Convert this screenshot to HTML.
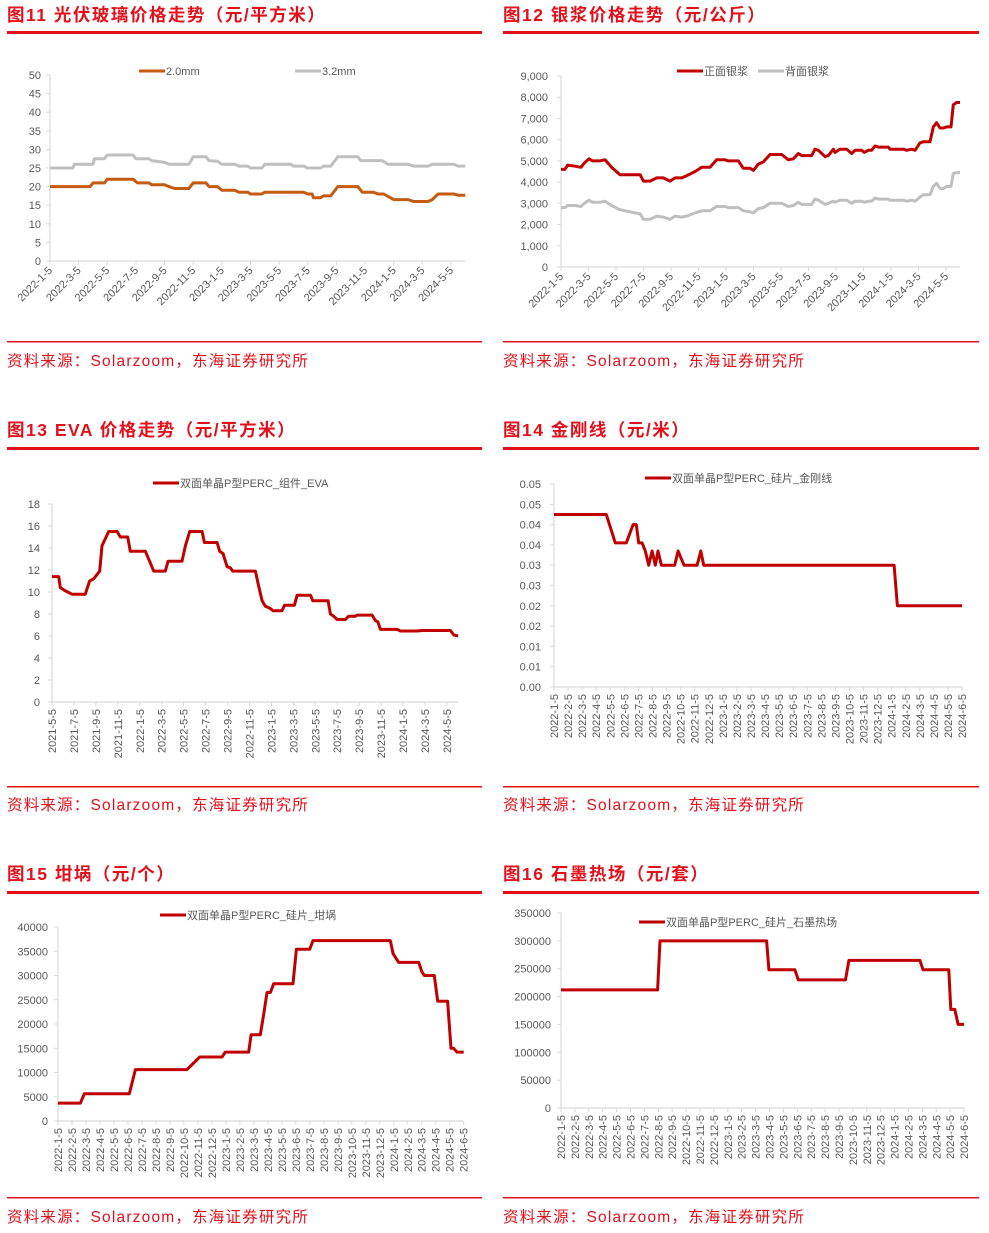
<!DOCTYPE html>
<html><head><meta charset="utf-8">
<style>
html,body{margin:0;padding:0;background:#fff;}
svg{display:block;font-family:"Liberation Sans","Noto Sans CJK SC",sans-serif;}
</style></head>
<body>
<svg id="page" width="989" height="1233" viewBox="0 0 989 1233" xmlns="http://www.w3.org/2000/svg">
<g fill="#e3101c" font-weight="bold" font-size="17.5" letter-spacing="1.5">
<text x="7" y="21">图11  光伏玻璃价格走势（元/平方米）</text>
<text x="503" y="21">图12  银浆价格走势（元/公斤）</text>
<text x="7" y="436">图13  EVA 价格走势（元/平方米）</text>
<text x="503" y="436">图14  金刚线（元/米）</text>
<text x="7" y="880">图15  坩埚（元/个）</text>
<text x="503" y="880">图16  石墨热场（元/套）</text>
</g>
<g fill="#e3101c">
<rect x="7" y="31" width="475" height="3"/><rect x="503" y="31" width="476" height="3"/>
<rect x="7" y="447" width="475" height="3"/><rect x="503" y="447" width="476" height="3"/>
<rect x="7" y="891" width="475" height="3"/><rect x="503" y="891" width="476" height="3"/>
<rect x="7" y="341" width="475" height="1.5"/><rect x="503" y="341" width="476" height="1.5"/>
<rect x="7" y="786" width="475" height="1.5"/><rect x="503" y="786" width="476" height="1.5"/>
<rect x="7" y="1197" width="475" height="1.5"/><rect x="503" y="1197" width="476" height="1.5"/>
</g>
<g fill="#e3101c" font-size="15.5" letter-spacing="1.2">
<text x="7" y="366">资料来源：Solarzoom，东海证券研究所</text>
<text x="503" y="366">资料来源：Solarzoom，东海证券研究所</text>
<text x="7" y="810">资料来源：Solarzoom，东海证券研究所</text>
<text x="503" y="810">资料来源：Solarzoom，东海证券研究所</text>
<text x="7" y="1222">资料来源：Solarzoom，东海证券研究所</text>
<text x="503" y="1222">资料来源：Solarzoom，东海证券研究所</text>
</g>
</svg>
<script>
// ---- Chart 11: glass ----
const glassLabels = ["2022-1-5","2022-3-5","2022-5-5","2022-7-5","2022-9-5","2022-11-5","2023-1-5","2023-3-5","2023-5-5","2023-7-5","2023-9-5","2023-11-5","2024-1-5","2024-3-5","2024-5-5"];
const glassYTicks = [0,5,10,15,20,25,30,35,40,45,50];
const glass32T = [0,1.6,1.7,3.0,3.1,3.8,4.0,5.8,6.0,6.9,7.1,8.0,8.3,9.7,10.0,10.9,11.1,11.7,12.0,12.9,13.2,13.8,14.0,14.8,15.0,16.8,17.0,17.7,18.0,18.9,19.1,19.6,20.1,21.5,21.7,23.2,23.6,25.0,25.4,26.4,26.7,28.2,28.5,29.0];
const glass32V = [25,25,26,26,27.5,27.5,28.5,28.5,27.5,27.5,27,26.5,26,26,28,28,27,26.8,26,26,25.5,25.5,25,25,26,26,25.5,25.5,25,25,25.5,25.5,28,28,27,27,26,26,25.5,25.5,26,26,25.5,25.5];
const glass20T = [0,2.8,3.0,3.8,4.0,5.8,6.1,6.9,7.1,8.0,8.3,8.7,9.7,10.0,10.9,11.1,11.7,12.0,12.9,13.2,13.8,14.0,14.8,15.0,17.7,18.0,18.3,18.4,18.9,19.1,19.6,20.1,21.5,21.8,22.6,22.9,23.3,24.0,25.0,25.4,26.4,26.7,27.1,28.2,28.5,29.0];
const glass20V = [20,20,21,21,22,22,21,21,20.5,20.5,20,19.5,19.5,21,21,20,20,19,19,18.5,18.5,18,18,18.5,18.5,18,18,17,17,17.5,17.5,20,20,18.5,18.5,18,18,16.5,16.5,16,16,16.5,18,18,17.7,17.7];
// ---- Chart 12: silver paste ----
const silverLabels = glassLabels;
const silverYTicks = [0,1000,2000,3000,4000,5000,6000,7000,8000,9000];
const silverYText = ["0","1,000","2,000","3,000","4,000","5,000","6,000","7,000","8,000","9,000"];
const silverT = [0,.29,.48,1.02,1.45,1.7,2.04,2.28,2.84,3.2,3.68,4.29,5.75,5.99,6.47,6.96,7.44,7.93,8.29,8.78,9.14,9.75,10.23,10.84,11.32,11.93,12.17,12.9,13.26,13.75,13.99,14.35,14.72,15.2,16.05,16.53,16.9,17.26,17.5,18.23,18.47,18.72,19.2,19.44,19.81,19.93,20.29,20.78,21.14,21.38,21.87,22.06,22.35,22.59,22.84,23.08,23.81,23.93,24.9,25.14,25.5,25.75,26.11,26.35,26.84,27.08,27.32,27.56,27.81,28.05,28.36,28.53,28.77,29.02];
const silverFront = [4600,4600,4800,4750,4700,4900,5100,5000,5000,5050,4700,4350,4350,4050,4050,4200,4200,4050,4200,4200,4300,4500,4700,4700,5050,5050,5000,5000,4650,4650,4550,4850,4950,5300,5300,5050,5100,5350,5250,5250,5550,5500,5200,5250,5550,5400,5550,5550,5350,5500,5500,5400,5500,5500,5700,5650,5650,5550,5550,5500,5550,5500,5850,5900,5900,6600,6800,6550,6550,6600,6600,7650,7750,7750];
const silverBack = [2800,2800,2900,2900,2850,3000,3150,3050,3050,3100,2900,2700,2500,2250,2250,2400,2350,2250,2400,2350,2400,2550,2650,2650,2850,2850,2800,2800,2650,2600,2550,2750,2800,3000,3000,2850,2900,3050,2950,2950,3200,3150,2950,3000,3100,3050,3150,3150,3000,3100,3100,3050,3100,3100,3250,3200,3200,3150,3150,3100,3150,3100,3300,3400,3400,3800,3950,3700,3700,3800,3800,4400,4450,4450];
// ---- Chart 13: EVA ----
const evaLabels = ["2021-5-5","2021-7-5","2021-9-5","2021-11-5","2022-1-5","2022-3-5","2022-5-5","2022-7-5","2022-9-5","2022-11-5","2023-1-5","2023-3-5","2023-5-5","2023-7-5","2023-9-5","2023-11-5","2024-1-5","2024-3-5","2024-5-5"];
const evaYTicks = [0,2,4,6,8,10,12,14,16,18];
const evaT = [0,.61,.76,1.22,1.82,3.04,3.43,3.8,4.35,4.56,5.17,5.93,6.23,6.9,7.14,8.51,9.27,10.33,10.58,11.85,12.16,12.55,13.68,13.89,15.05,15.29,15.59,15.96,16.26,16.47,18.54,18.78,19.15,19.45,19.91,20.15,20.97,21.19,22.1,22.34,23.56,23.77,25.17,25.38,25.68,25.99,26.75,27.05,27.66,27.81,29.18,29.48,29.7,29.94,31.46,31.76,33.28,33.74,36.32,36.63,37.02];
const evaV = [11.4,11.4,10.4,10.1,9.8,9.8,11,11.2,11.9,14.2,15.5,15.5,15,15,13.7,13.7,11.9,11.9,12.8,12.8,14.2,15.5,15.5,14.5,14.5,13.7,13.5,12.3,12.2,11.9,11.9,10.8,9.2,8.7,8.5,8.3,8.3,8.8,8.8,9.7,9.7,9.2,9.2,8,7.8,7.5,7.5,7.8,7.8,7.9,7.9,7.4,7.3,6.6,6.6,6.45,6.45,6.5,6.5,6.1,6.0];
// ---- monthly labels ----
const monthLabels = ["2022-1-5","2022-2-5","2022-3-5","2022-4-5","2022-5-5","2022-6-5","2022-7-5","2022-8-5","2022-9-5","2022-10-5","2022-11-5","2022-12-5","2023-1-5","2023-2-5","2023-3-5","2023-4-5","2023-5-5","2023-6-5","2023-7-5","2023-8-5","2023-9-5","2023-10-5","2023-11-5","2023-12-5","2024-1-5","2024-2-5","2024-3-5","2024-4-5","2024-5-5","2024-6-5"];
// ---- Chart 14: diamond wire ----
const wireYTicks = [0,0.005,0.01,0.015,0.02,0.025,0.03,0.035,0.04,0.045,0.05];
const wireT = [0,3.72,4.36,5.14,5.62,5.85,6.02,6.26,6.49,6.73,6.97,7.2,7.39,7.63,8.58,8.82,9.24,10.17,10.43,10.64,24.17,24.41,29.0];
const wireV = [.0425,.0425,.0355,.0355,.040,.040,.0355,.0355,.0335,.030,.0335,.030,.0335,.030,.030,.0335,.030,.030,.0335,.030,.030,.020,.020];
// ---- Chart 15: crucible ----
const crucYTicks = [0,5000,10000,15000,20000,25000,30000,35000,40000];
const crucT = [0,1.6,1.88,5.1,5.53,9.22,10.13,11.72,11.96,13.63,13.8,14.46,14.7,14.94,15.18,15.42,16.8,17.04,17.99,18.23,23.75,23.95,24.35,25.78,26.02,26.19,26.9,27.14,27.85,28.09,28.28,28.52,29];
const crucV = [3700,3700,5600,5600,10600,10600,13200,13200,14200,14200,17800,17800,22000,26500,26500,28300,28300,35400,35400,37200,37200,34500,32700,32700,30700,30000,30000,24700,24700,15000,15000,14200,14200];
// ---- Chart 16: graphite hot zone ----
const graphYTicks = [0,50000,100000,150000,200000,250000,300000,350000];
const graphT = [0,6.95,7.12,14.79,14.96,16.83,17.07,20.47,20.71,25.82,26.05,27.9,28.04,28.33,28.57,29];
const graphV = [212000,212000,300000,300000,248000,248000,230000,230000,265000,265000,248000,248000,177000,177000,150000,150000];

const NS = "http://www.w3.org/2000/svg";
const svg = document.getElementById("page");
function mk(tag, attrs, parent){const e=document.createElementNS(NS,tag);for(const k in attrs)e.setAttribute(k,attrs[k]);(parent||svg).appendChild(e);return e;}

function drawChart(c){
  const g = mk("g",{});
  
  
  const xs = t => c.x0 + t*c.pxPerMonth;
  const ys = v => c.y0 - (v/c.ymax)*(c.y0-c.yTop);
  const ya = mk("line",{x1:c.x0,x2:c.x0,y1:c.yTop,y2:c.y0,stroke:"#d9d9d9","stroke-width":1.2},g);
  
  
  const xa = mk("line",{x1:c.x0,x2:c.xEnd,y1:c.y0,y2:c.y0,stroke:"#d9d9d9","stroke-width":1.2},g);
  
  
  c.yTicks.forEach((v,i)=>{
    const y=ys(v);
    mk("line",{x1:c.x0-4,x2:c.x0,y1:y,y2:y,stroke:"#d9d9d9"},g);
    const t=mk("text",{x:c.yLabelX,y:y+4,"text-anchor":"end","font-size":c.yFont||11,fill:"#595959"},g);
    t.textContent = c.yText ? c.yText[i] : String(v);
    
    
  });
  c.xLabels.forEach((lab,i)=>{
    const x=xs(i*c.labelStep);
    mk("line",{x1:x,x2:x,y1:c.y0,y2:c.y0+4,stroke:"#d9d9d9"},g);
    let t;
    if(c.rot===45){
      t=mk("text",{x:x+3,y:c.y0+10,"text-anchor":"end","font-size":11,fill:"#595959",transform:`rotate(-45 ${x+3} ${c.y0+10})`},g);
    } else {
      t=mk("text",{x:x+4,y:c.y0+7,"text-anchor":"end","font-size":11,fill:"#595959",transform:`rotate(-90 ${x+4} ${c.y0+7})`},g);
    }
    t.textContent=lab;
    
    
  });
  c.series.forEach(s=>{
    const d=s.t.map((t,i)=>(i?"L":"M")+xs(t).toFixed(1)+","+ys(s.v[i]).toFixed(1)).join(" ");
    const p=mk("path",{d:d,fill:"none",stroke:s.color,"stroke-width":3,"stroke-linejoin":"round"},g);
    
    
    const l=mk("line",{x1:s.lx,x2:s.lx+26,y1:c.legendY,y2:c.legendY,stroke:s.color,"stroke-width":3},g);
    
    
    const lt=mk("text",{x:s.lx+27,y:c.legendY+4,"font-size":11,fill:"#595959"},g);
    lt.textContent=s.label;
    
    
  });
}

drawChart({name:"glass-price-chart",x0:50,xEnd:465,pxPerMonth:14.32,y0:261,yTop:75,ymax:50,yTicks:glassYTicks,yLabelX:41,xLabels:glassLabels,labelStep:2,rot:45,legendY:71,
  series:[{name:"glass-3-2mm",t:glass32T,v:glass32V,color:"#bfbfbf",lx:295,label:"3.2mm"},{name:"glass-2-0mm",t:glass20T,v:glass20V,color:"#c55a11",lx:139,label:"2.0mm"}]});
drawChart({name:"silver-paste-chart",x0:561,xEnd:960,pxPerMonth:13.75,y0:267,yTop:76,ymax:9000,yTicks:silverYTicks,yText:silverYText,yLabelX:548,xLabels:silverLabels,labelStep:2,rot:45,legendY:71,
  series:[{name:"back-silver",t:silverT,v:silverBack,color:"#bfbfbf",lx:758,label:"背面银浆"},{name:"front-silver",t:silverT,v:silverFront,color:"#c00000",lx:677,label:"正面银浆"}]});
drawChart({name:"eva-price-chart",x0:52,xEnd:458,pxPerMonth:10.97,y0:702,yTop:504,ymax:18,yTicks:evaYTicks,yLabelX:40,xLabels:evaLabels,labelStep:2,rot:90,legendY:483,
  series:[{name:"eva",t:evaT,v:evaV,color:"#c00000",lx:153,label:"双面单晶P型PERC_组件_EVA"}]});
drawChart({name:"diamond-wire-chart",x0:554,xEnd:962,pxPerMonth:14.07,y0:687,yTop:484,ymax:0.05,yTicks:wireYTicks,yText:["0.00","0.01","0.01","0.02","0.02","0.03","0.03","0.04","0.04","0.05","0.05"],yLabelX:541,xLabels:monthLabels,labelStep:1,rot:90,legendY:478,
  series:[{name:"diamond-wire",t:wireT,v:wireV,color:"#c00000",lx:645,label:"双面单晶P型PERC_硅片_金刚线"}]});
drawChart({name:"crucible-chart",x0:58,xEnd:463,pxPerMonth:13.99,y0:1121,yTop:927,ymax:40000,yTicks:crucYTicks,yLabelX:48,xLabels:monthLabels,labelStep:1,rot:90,legendY:915,
  series:[{name:"crucible",t:crucT,v:crucV,color:"#c00000",lx:160,label:"双面单晶P型PERC_硅片_坩埚"}]});
drawChart({name:"graphite-hot-zone-chart",x0:561,xEnd:964,pxPerMonth:13.9,y0:1108,yTop:913,ymax:350000,yTicks:graphYTicks,yLabelX:551,xLabels:monthLabels,labelStep:1,rot:90,legendY:922,
  series:[{name:"graphite",t:graphT,v:graphV,color:"#c00000",lx:639,label:"双面单晶P型PERC_硅片_石墨热场"}]});
</script>
</body></html>
